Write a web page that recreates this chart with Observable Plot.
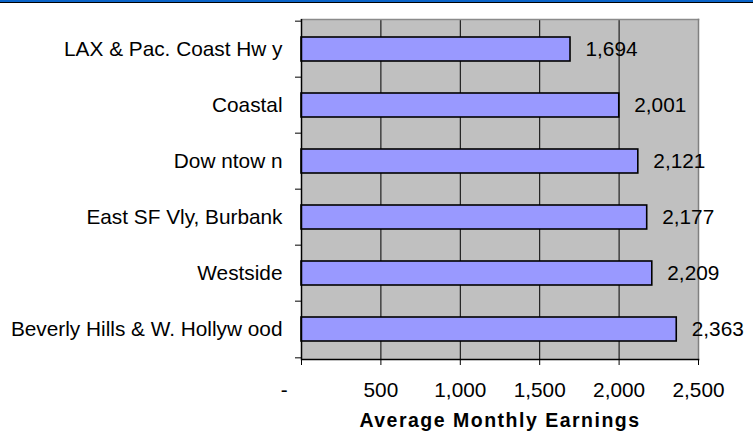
<!DOCTYPE html>
<html>
<head>
<meta charset="utf-8">
<script src="https://cdn.jsdelivr.net/npm/d3@7"></script>
<script src="https://cdn.jsdelivr.net/npm/@observablehq/plot@0.6"></script>
<style>
  html, body { margin: 0; padding: 0; background: #fff; }
  #wrap { position: relative; width: 753px; height: 434px; }
  #stripe { position: absolute; left: 0; top: 0; width: 753px; height: 2px; background: #0a64c8; border-bottom: 1px solid #000; }
</style>
</head>
<body>
<div id="wrap"><div id="stripe"></div></div>
<script>
const categories = [
  "LAX & Pac. Coast Hw y",
  "Coastal",
  "Dow ntow n",
  "East SF Vly, Burbank",
  "Westside",
  "Beverly Hills & W. Hollyw ood"
];
const earnings = [1694, 2001, 2121, 2177, 2209, 2363];
const xTicks = [0, 500, 1000, 1500, 2000, 2500];
const xTitle = "Average Monthly Earnings";

const data = categories.map((c, i) => ({category: c, value: earnings[i]}));

const W = 753, H = 434;
const mL = 301, mR = 55, mT = 19, mB = 75;
const step = (H - mT - mB) / categories.length;
const fmt = d3.format(",");

const chart = Plot.plot({
  width: W,
  height: H,
  marginLeft: mL,
  marginRight: mR,
  marginTop: mT,
  marginBottom: mB,
  style: {fontFamily: "'Liberation Sans', Arial, sans-serif", fontSize: "20.8px", color: "#000", background: "transparent"},
  x: {domain: [0, 2500], ticks: xTicks},
  y: {domain: categories, paddingInner: 0.58, paddingOuter: 0.29},
  marks: [
    Plot.frame({fill: "#c0c0c0", stroke: null}),
    Plot.ruleX(xTicks.slice(1, -1), {stroke: "#000", strokeWidth: 1}),
    Plot.frame({anchor: "top", stroke: "#8a8a8a", strokeWidth: 1.5}),
    Plot.frame({anchor: "right", stroke: "#808080", strokeWidth: 1.5}),
    Plot.barX(data, {x: "value", y: "category", fill: "#9999ff", stroke: "#000", strokeWidth: 1.6}),
    Plot.text(data, {x: "value", y: "category", text: d => fmt(d.value), textAnchor: "start", dx: 15, fill: "#000"}),
    Plot.axisY({tickSize: 0, tickPadding: 19, label: null}),
    Plot.axisY({tickSize: 6, text: null, label: null, dy: -step / 2}),
    Plot.axisY([categories[categories.length - 1]], {tickSize: 6, text: null, label: null, dy: step / 2}),
    Plot.ruleX([0], {stroke: "#000", strokeWidth: 1.5}),
    Plot.frame({anchor: "bottom", stroke: "#000", strokeWidth: 1.5}),
    Plot.axisX({ticks: xTicks, tickSize: 6, tickPadding: 17, label: null,
      tickFormat: d => d === 0 ? "-\u00a0\u00a0\u00a0\u00a0\u00a0\u00a0" : fmt(d)}),
    Plot.text([xTitle], {frameAnchor: "bottom", dy: 67, fontWeight: "bold", fontSize: 19.5, fill: "#000"})
  ]
});

d3.select(chart).selectAll("text").filter(function() { return this.textContent === xTitle; })
  .attr("letter-spacing", "1.5px");

document.getElementById("wrap").appendChild(chart);
</script>
</body>
</html>
